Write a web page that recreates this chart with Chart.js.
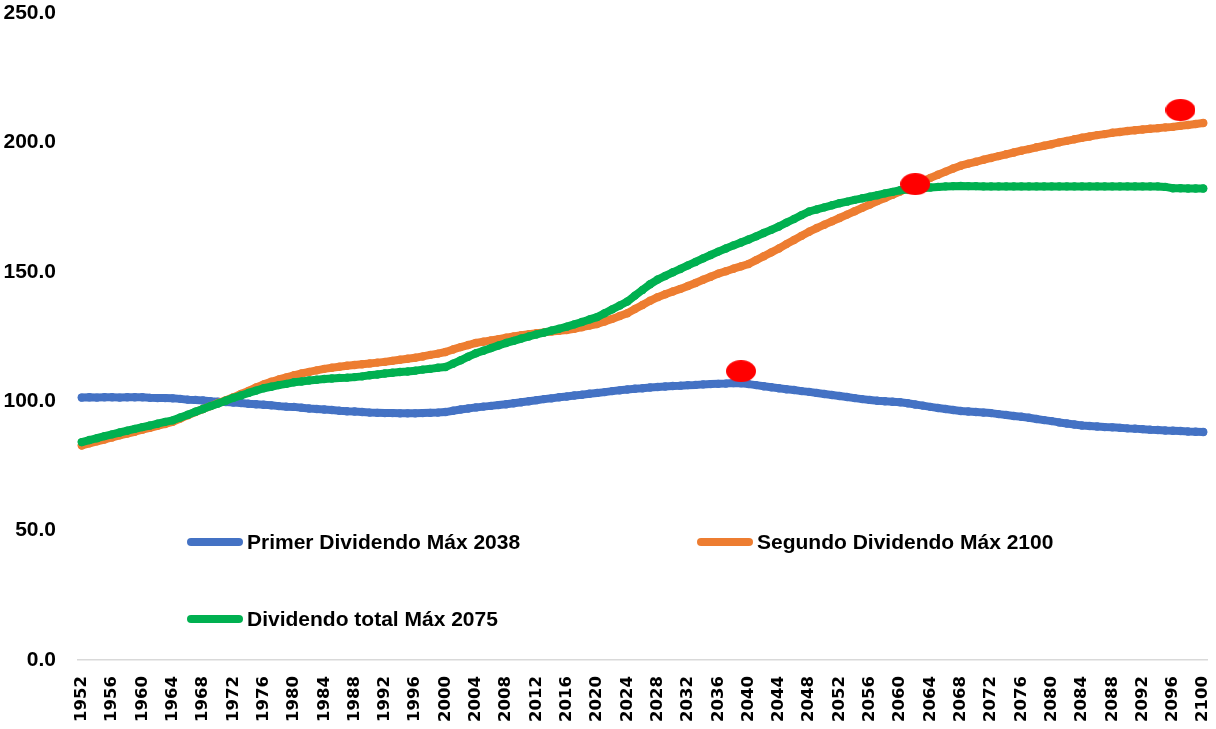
<!DOCTYPE html>
<html>
<head>
<meta charset="utf-8">
<script src="https://cdn.jsdelivr.net/npm/chart.js@4"></script>
<style>
  html, body { margin: 0; padding: 0; background: #fff; }
  #wrap { width: 1216px; height: 729px; }
</style>
</head>
<body>
<div id="wrap"><canvas id="chart"></canvas></div>
<script>
const firstYear = 1952;
const lastYear = 2100;

const primerDividendo = [
  101.4, 101.5, 101.4, 101.5, 101.5, 101.4, 101.5, 101.5,
  101.5, 101.3, 101.2, 101.2, 101.1, 100.9, 100.6, 100.5,
  100.3, 100.0, 99.8, 99.7, 99.5, 99.3, 99.0, 98.8,
  98.6, 98.4, 98.1, 97.9, 97.8, 97.5, 97.2, 97.0,
  96.8, 96.6, 96.3, 96.1, 96.0, 95.8, 95.6, 95.5,
  95.4, 95.4, 95.3, 95.3, 95.3, 95.4, 95.5, 95.6,
  95.8, 96.3, 96.8, 97.2, 97.6, 97.9, 98.2, 98.5,
  98.8, 99.2, 99.6, 100.0, 100.4, 100.8, 101.1, 101.5,
  101.8, 102.2, 102.5, 102.9, 103.2, 103.5, 103.9, 104.2,
  104.5, 104.8, 105.0, 105.3, 105.5, 105.7, 105.9, 106.0,
  106.2, 106.3, 106.5, 106.6, 106.7, 106.8, 107.0, 106.9,
  106.6, 106.2, 105.8, 105.4, 105.0, 104.6, 104.3, 103.9,
  103.6, 103.2, 102.8, 102.4, 102.0, 101.6, 101.2, 100.8,
  100.5, 100.2, 100.0, 99.8, 99.6, 99.2, 98.7, 98.3,
  97.8, 97.4, 97.0, 96.6, 96.2, 96.0, 95.8, 95.6,
  95.4, 95.0, 94.7, 94.3, 94.0, 93.6, 93.1, 92.7,
  92.3, 91.8, 91.4, 91.0, 90.6, 90.4, 90.2, 90.0,
  89.9, 89.7, 89.5, 89.4, 89.2, 89.0, 88.9, 88.7,
  88.6, 88.5, 88.3, 88.2, 88.1
];

const segundoDividendo = [
  82.9, 83.7, 84.5, 85.2, 86.0, 86.8, 87.5, 88.2,
  89.0, 89.7, 90.5, 91.2, 92.0, 93.3, 94.6, 95.8,
  97.0, 98.1, 99.3, 100.4, 101.5, 102.8, 104.0, 105.3,
  106.5, 107.5, 108.4, 109.2, 110.0, 110.7, 111.3, 111.9,
  112.5, 112.9, 113.3, 113.7, 114.0, 114.3, 114.6, 114.9,
  115.2, 115.6, 116.0, 116.4, 116.8, 117.3, 117.9, 118.4,
  119.0, 120.0, 120.9, 121.7, 122.5, 123.0, 123.5, 124.0,
  124.5, 125.0, 125.5, 125.9, 126.3, 126.6, 126.9, 127.2,
  127.5, 128.0, 128.6, 129.2, 129.8, 130.8, 131.8, 132.9,
  134.0, 135.6, 137.2, 138.8, 140.2, 141.3, 142.4, 143.4,
  144.5, 145.7, 146.9, 148.1, 149.3, 150.2, 151.2, 152.1,
  153.0, 154.5, 156.0, 157.5, 159.0, 160.7, 162.3, 163.9,
  165.5, 166.9, 168.2, 169.5, 170.8, 172.1, 173.4, 174.7,
  176.0, 177.3, 178.5, 179.8, 181.0, 182.4, 183.7, 185.0,
  186.3, 187.5, 188.7, 189.9, 191.0, 191.8, 192.5, 193.3,
  194.0, 194.7, 195.4, 196.1, 196.8, 197.4, 198.1, 198.7,
  199.3, 200.0, 200.6, 201.2, 201.8, 202.3, 202.8, 203.2,
  203.7, 204.0, 204.4, 204.7, 205.0, 205.3, 205.5, 205.8,
  206.0, 206.4, 206.7, 207.1, 207.5
];

const dividendoTotal = [
  84.2, 85.0, 85.7, 86.5, 87.2, 87.9, 88.6, 89.3,
  90.0, 90.6, 91.3, 92.0, 92.6, 93.7, 94.8, 95.9,
  97.0, 98.1, 99.1, 100.2, 101.3, 102.2, 103.2, 104.1,
  105.0, 105.6, 106.2, 106.7, 107.3, 107.6, 108.0, 108.3,
  108.6, 108.8, 109.0, 109.1, 109.3, 109.6, 110.0, 110.3,
  110.7, 111.0, 111.3, 111.5, 111.8, 112.2, 112.5, 112.9,
  113.2, 114.5, 115.8, 117.2, 118.5, 119.5, 120.5, 121.5,
  122.5, 123.3, 124.2, 125.0, 125.8, 126.5, 127.3, 128.0,
  128.8, 129.7, 130.6, 131.6, 132.5, 134.0, 135.5, 137.0,
  138.5, 140.8, 143.0, 145.2, 147.0, 148.4, 149.8, 151.1,
  152.5, 153.8, 155.2, 156.5, 157.8, 159.0, 160.2, 161.3,
  162.5, 163.7, 165.0, 166.2, 167.5, 169.0, 170.4, 171.9,
  173.3, 174.1, 174.9, 175.7, 176.5, 177.1, 177.8, 178.4,
  179.0, 179.6, 180.3, 180.9, 181.5, 181.8, 182.1, 182.3,
  182.6, 182.8, 183.0, 183.1, 183.2, 183.1, 183.1, 183.0,
  183.0, 183.0, 183.0, 183.0, 183.0, 183.0, 183.0, 183.0,
  183.0, 183.0, 183.0, 183.0, 183.0, 183.0, 183.0, 183.0,
  183.0, 183.0, 183.0, 183.0, 183.0, 183.0, 183.0, 182.8,
  182.3, 182.3, 182.2, 182.2, 182.2
];

// red ellipses marking the maxima
const maxYears = ["2039", "2062", "2097"];
const maxValues = [111.6, 183.9, 212.5];

const seriesNames = ["Primer Dividendo Máx 2038", "Segundo Dividendo Máx 2100", "Dividendo total Máx 2075"];
const seriesColors = ["#4472C4", "#ED7D31", "#00B050"];

const years = [];
for (let y = firstYear; y <= lastYear; y++) years.push(String(y));

// ellipse used as point style for the maxima
const ellipse = document.createElement("canvas");
ellipse.width = 30;
ellipse.height = 22;
const ec = ellipse.getContext("2d");
ec.fillStyle = "#FF0000";
ec.beginPath();
ec.ellipse(15, 11, 15, 11, 0, 0, Math.PI * 2);
ec.fill();

const lineSet = (i, values, order) => ({
  label: seriesNames[i],
  data: values,
  borderColor: seriesColors[i],
  backgroundColor: seriesColors[i],
  borderWidth: 8,
  pointRadius: 4.2,
  pointBorderWidth: 0,
  pointHoverRadius: 4.2,
  borderCapStyle: "round",
  borderJoinStyle: "round",
  order: order,
});

const legendBox = {
  id: "legendBox",
  afterDraw(chart) {
    const { ctx, chartArea } = chart;
    const spots = [
      [chartArea.left + 109, 542],
      [chartArea.left + 619, 542],
      [chartArea.left + 109, 619],
    ];
    ctx.save();
    ctx.font = "bold 21px 'Liberation Sans', Arial, sans-serif";
    ctx.textBaseline = "middle";
    seriesNames.forEach((name, i) => {
      const [x, y] = spots[i];
      ctx.strokeStyle = seriesColors[i];
      ctx.lineWidth = 8;
      ctx.lineCap = "round";
      ctx.beginPath();
      ctx.moveTo(x + 4, y);
      ctx.lineTo(x + 52, y);
      ctx.stroke();
      ctx.fillStyle = "#000";
      ctx.fillText(name, x + 60, y + 1);
    });
    ctx.restore();
  },
};

new Chart(document.getElementById("chart"), {
  type: "line",
  data: {
    labels: years,
    datasets: [
      lineSet(0, primerDividendo, 3),
      lineSet(1, segundoDividendo, 2),
      lineSet(2, dividendoTotal, 1),
      {
        label: "Máx",
        data: maxYears.map((y, i) => ({ x: y, y: maxValues[i] })),
        showLine: false,
        pointStyle: ellipse,
        pointRadius: 1,
        pointHoverRadius: 1,
        pointBorderWidth: 0,
        backgroundColor: "#FF0000",
        borderColor: "#FF0000",
        order: 0,
      },
    ],
  },
  options: {
    responsive: true,
    maintainAspectRatio: false,
    animation: false,
    layout: { padding: { left: 2, right: 9, top: 13, bottom: 6 } },
    plugins: {
      legend: { display: false },
      tooltip: { enabled: false },
    },
    scales: {
      x: {
        type: "category",
        offset: true,
        grid: { display: false, drawTicks: false },
        border: { display: true, color: "#D9D9D9", width: 1.5 },
        afterFit: (scale) => {
          scale.height = 63;
          scale.paddingLeft = 0;
          scale.paddingRight = 0;
        },
        ticks: {
          autoSkip: false,
          maxRotation: 90,
          minRotation: 90,
          padding: 16,
          color: "#000",
          font: { family: "DejaVu Sans", size: 16.5, weight: "bold" },
          callback: function (v) {
            const y = Number(this.getLabelForValue(v));
            return (y - firstYear) % 4 === 0 ? String(y) : "";
          },
        },
      },
      y: {
        min: 0,
        max: 250,
        grid: { display: false, drawTicks: false },
        border: { display: false },
        afterFit: (scale) => {
          scale.width = 76;
          scale.paddingTop = 0;
          scale.paddingBottom = 0;
        },
        ticks: {
          stepSize: 50,
          padding: 22,
          color: "#000",
          font: { family: "Liberation Sans", size: 21, weight: "bold" },
          callback: (v) => v.toFixed(1),
        },
      },
    },
  },
  plugins: [legendBox],
});
</script>
</body>
</html>
